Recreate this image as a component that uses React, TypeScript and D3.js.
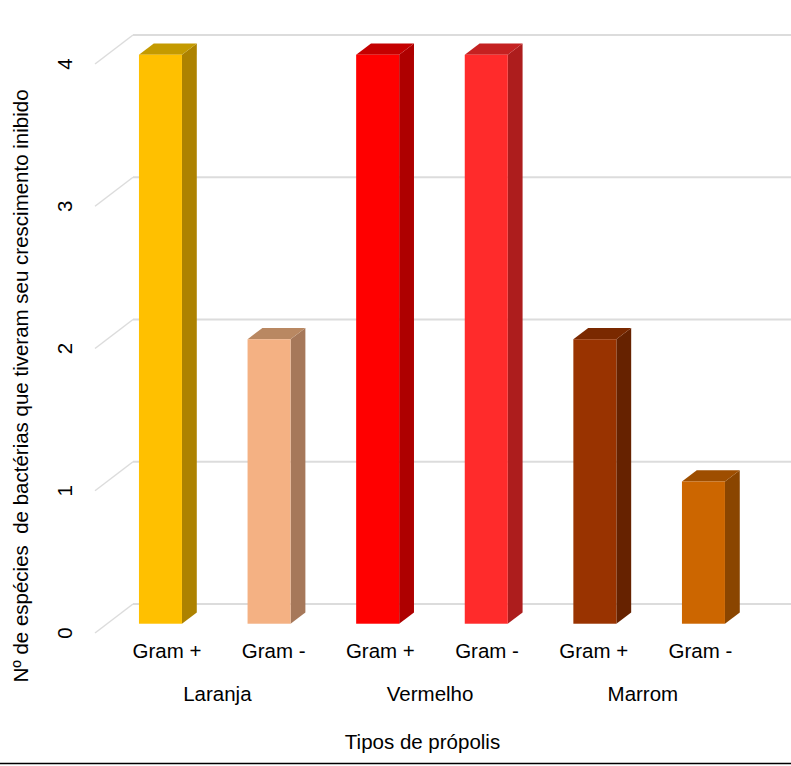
import React from "react";
import * as d3 from "d3";

const groups = ["Laranja", "Vermelho", "Marrom"];
const barKeys = ["L+", "L-", "V+", "V-", "M+", "M-"];
const barLabels = ["Gram +", "Gram -", "Gram +", "Gram -", "Gram +", "Gram -"];
const values = [4, 2, 4, 4, 2, 1];
const frontColors = ["#FFC000", "#F4B183", "#FF0000", "#FF2B2B", "#993300", "#CC6600"];
const sideColors = ["#AD8200", "#A6785A", "#AE0000", "#AD1D1D", "#662200", "#8A4500"];
const topColors = ["#C49A00", "#B98862", "#C40000", "#C42121", "#7A2900", "#9E4E00"];
const yTicks = [0, 1, 2, 3, 4];

const W = 791;
const H = 766;
const FONT = "'Liberation Sans', Arial, sans-serif";
const FS = 20.5;

export default function App() {
  const y = d3.scaleLinear().domain([0, 4]).range([633, 64]);
  const x = d3
    .scaleBand<string>()
    .domain(barKeys)
    .range([126.8, 712.8])
    .paddingInner(0.604)
    .paddingOuter(0);
  const xLabel = d3.scaleBand<string>().domain(barKeys).range([113.6, 753.8]);
  const xGroup = d3.scaleBand<string>().domain(groups).range([111, 749.25]);

  const depth = { dx: 38, dy: -29 };
  const f1 = 0.32;
  const f2 = 0.71;
  const axisLeft = 95;

  return (
    <svg
      width={W}
      height={H}
      style={{ position: "absolute", left: 0, top: 0, background: "#fff" }}
      fontFamily={FONT}
    >
      {yTicks.map((t) => {
        const y0 = y(t);
        return (
          <g key={"g" + t}>
            <line
              x1={axisLeft}
              y1={y0}
              x2={axisLeft + depth.dx}
              y2={y0 + depth.dy}
              stroke="#dcdcdc"
              strokeWidth={1.5}
            />
            <line
              x1={axisLeft + depth.dx}
              y1={y0 + depth.dy}
              x2={W}
              y2={y0 + depth.dy}
              stroke="#dcdcdc"
              strokeWidth={2}
            />
          </g>
        );
      })}
      {barKeys.map((k, i) => {
        const bw = x.bandwidth();
        const fx = (x(k) as number) + depth.dx * f1;
        const fy0 = y(0) + depth.dy * f1;
        const fy1 = y(values[i]) + depth.dy * f1;
        const sdx = depth.dx * (f2 - f1);
        const sdy = depth.dy * (f2 - f1);
        const side = `M${fx + bw},${fy1} L${fx + bw + sdx},${fy1 + sdy} L${fx + bw + sdx},${fy0 + sdy} L${fx + bw},${fy0} Z`;
        const top = `M${fx},${fy1} L${fx + sdx},${fy1 + sdy} L${fx + bw + sdx},${fy1 + sdy} L${fx + bw},${fy1} Z`;
        return (
          <g key={k}>
            <path d={side} fill={sideColors[i]} />
            <path d={top} fill={topColors[i]} />
            <rect x={fx} y={fy1} width={bw} height={fy0 - fy1} fill={frontColors[i]} />
          </g>
        );
      })}
      {yTicks.map((t) => (
        <text
          key={"t" + t}
          transform={`translate(72,${y(t)}) rotate(-90)`}
          textAnchor="middle"
          fontSize={FS}
          fill="#000"
        >
          {t}
        </text>
      ))}
      {barKeys.map((k, i) => (
        <text
          key={"xl" + k}
          x={(xLabel(k) as number) + xLabel.bandwidth() / 2}
          y={658}
          textAnchor="middle"
          fontSize={FS}
          fill="#000"
        >
          {barLabels[i]}
        </text>
      ))}
      {groups.map((g) => (
        <text
          key={"gl" + g}
          x={(xGroup(g) as number) + xGroup.bandwidth() / 2}
          y={701}
          textAnchor="middle"
          fontSize={FS}
          fill="#000"
        >
          {g}
        </text>
      ))}
      <text x={422.5} y={749} textAnchor="middle" fontSize={FS} fill="#000">
        Tipos de própolis
      </text>
      <text
        transform="translate(27.5,386) rotate(-90)"
        textAnchor="middle"
        fontSize={FS}
        fill="#000"
        style={{ whiteSpace: "pre" }}
      >
        {"Nº de espécies  de bactérias que tiveram seu crescimento inibido"}
      </text>
      <line x1={0} y1={763.5} x2={W} y2={763.5} stroke="#000" strokeWidth={1.5} />
    </svg>
  );
}
